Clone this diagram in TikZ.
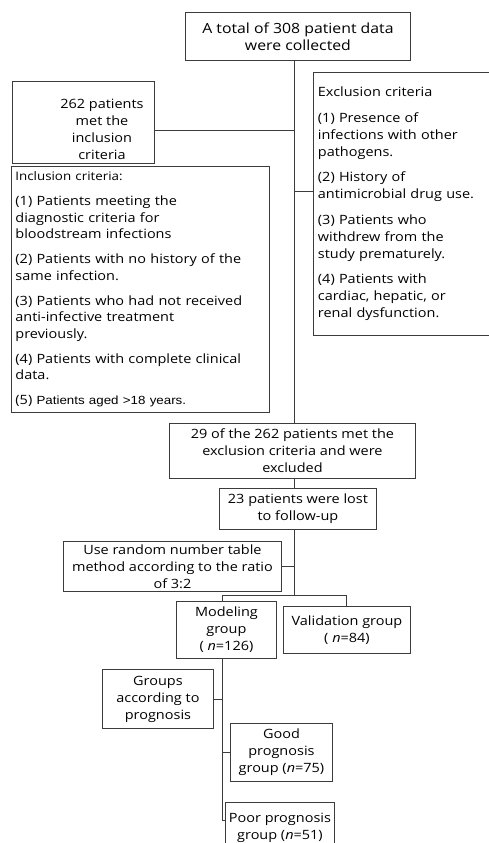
\documentclass[tikz,border=0pt]{standalone}
\usepackage{fontspec}
\setmainfont{Open Sans}[FakeStretch=1.13]
\newfontfamily\arialfont{Liberation Sans}[FakeStretch=1.13]
\usetikzlibrary{positioning}
\definecolor{linegray}{RGB}{60,60,60}
\tikzset{
  box/.style={draw=linegray, line width=0.9pt, anchor=north west, inner sep=3pt,
    align=center, font=\fontsize{12.8}{17}\selectfont},
  listbox/.style={box, align=left, inner xsep=4pt, text width=#1},
  plain/.style={inner sep=0pt, align=center, font=\fontsize{12.8}{17}\selectfont},
  link/.style={draw=linegray, line width=0.9pt},
}
\begin{document}
\begin{tikzpicture}[x=1pt,y=-1pt]
\useasboundingbox[fill=white] (0,0) rectangle (489,843);
% boxes
\node[box, minimum width=225pt, minimum height=48pt,
  font=\fontsize{14}{17}\selectfont] (total) at (185,12)
  {A total of 308 patient data\\were collected};
\node[box, minimum width=142pt, minimum height=82pt] (met) at (12,81) {};
\node[plain] (metlabel) at (102,129) {262 patients\\met the\\inclusion\\criteria};
\node[listbox=171pt, minimum width=180pt, minimum height=263pt] (excl) at (313,72)
  {Exclusion criteria\\[8.5pt]
   (1) Presence of\\infections with other\\pathogens.\\[8.5pt]
   (2) History of\\antimicrobial drug use.\\[8.5pt]
   (3) Patients who\\withdrew from the\\study prematurely.\\[8.5pt]
   (4) Patients with\\cardiac, hepatic, or\\renal dysfunction.};
\node[listbox=250pt, minimum width=258pt, minimum height=246pt,
  font=\fontsize{12.8}{16.5}\selectfont] (incl) at (11,166)
  {{\fontsize{11.8}{16.5}\selectfont Inclusion criteria:}\\[8.5pt]
   (1) Patients meeting the\\diagnostic criteria for\\bloodstream infections\\[8.5pt]
   (2) Patients with no history of the\\same infection.\\[8.5pt]
   (3) Patients who had not received\\anti-infective treatment\\previously.\\[8.5pt]
   (4) Patients with complete clinical\\data.\\[8.5pt]
   (5) {\arialfont\fontsize{11.8}{16.5}\selectfont Patients aged >18 years.}};
\node[box, minimum width=246pt, minimum height=55pt] (excluded) at (169,423)
  {29 of the 262 patients met the\\exclusion criteria and were\\excluded};
\node[box, minimum width=157pt, minimum height=41pt] (lost) at (219,488)
  {23 patients were lost\\to follow-up};
\node[box, minimum width=218pt, minimum height=49pt] (random) at (63,541)
  {Use random number table\\method according to the ratio\\of 3:2};
\node[box, minimum width=100pt, minimum height=57pt] (modeling) at (176,601)
  {Modeling\\group\\( \textit{n}=126)};
\node[box, minimum width=127pt, minimum height=47pt] (validation) at (283,606)
  {Validation group\\( \textit{n}=84)};
\node[box, minimum width=111pt, minimum height=59pt] (groups) at (102,669)
  {Groups\\according to\\prognosis};
\node[box, minimum width=102pt, minimum height=58pt] (good) at (230,723)
  {Good\\prognosis\\group (\textit{n}=75)};
\node[box, minimum width=109pt, minimum height=50pt] (poor) at (225,802)
  {Poor prognosis\\group (\textit{n}=51)};
% joints
\coordinate (j1) at (294,130);
\coordinate (j2) at (294,191);
\coordinate (j3) at (294,566);
\coordinate (j4) at (294,595);
\coordinate (m0) at (222,595);
\coordinate (v0) at (346,595);
\coordinate (p1) at (222,698);
\coordinate (p2) at (222,752);
\coordinate (p3) at (222,820);
% connectors
\draw[link] (total.south -| j1) -- (excluded.north -| j1);
\draw[link] (met.east |- j1) -- (j1);
\draw[link] (j2) -- (excl.west |- j2);
\draw[link] (excluded.south -| j1) -- (lost.north -| j1);
\draw[link] (lost.south -| j1) -- (j4);
\draw[link] (random.east) -- (random.east -| j3);
\draw[link] (m0) -- (v0);
\draw[link] (m0) -- (modeling.north -| m0);
\draw[link] (v0) -- (validation.north -| v0);
\draw[link] (modeling.south -| m0) -- (p3) -- (poor.west |- p3);
\draw[link] (groups.east) -- (groups.east -| p1);
\draw[link] (good.west) -- (good.west -| p2);
\end{tikzpicture}
\end{document}
